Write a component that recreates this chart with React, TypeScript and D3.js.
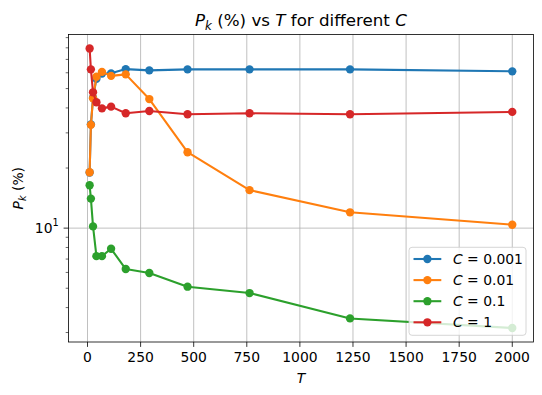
import React from 'react'
import * as d3 from 'd3'

const T = [10, 16, 26, 42, 68, 111, 180, 291, 471, 763, 1236, 2000]
const pkC0001 = [19.0, 33.1, 45, 56, 59.5, 59.6, 62.6, 61.7, 62.4, 62.4, 62.4, 61.0]
const pkC001 = [19.05, 32.9, 44.7, 57.3, 60.6, 57.9, 58.9, 44.3, 24.0, 15.5, 12.0, 10.4]
const pkC01 = [16.4, 14.06, 10.2, 7.24, 7.24, 7.88, 6.24, 5.96, 5.09, 4.73, 3.53, 3.16]
const pkC1 = [79.4, 62.4, 47.9, 42.7, 39.8, 40.6, 37.6, 38.6, 37.2, 37.6, 37.2, 38.2]
const cLabels = ['0.001', '0.01', '0.1', '1']
const xTicks = [0, 250, 500, 750, 1000, 1250, 1500, 1750, 2000]

const series = [
  { label: cLabels[0], values: pkC0001, color: '#1f77b4' },
  { label: cLabels[1], values: pkC001, color: '#ff7f0e' },
  { label: cLabels[2], values: pkC01, color: '#2ca02c' },
  { label: cLabels[3], values: pkC1, color: '#d62728' },
]

const W = 542
const H = 395
const margin = { left: 68.5, right: W - 533.4, top: 34.5, bottom: H - 342 }
const FONT = 'DejaVu Sans, sans-serif'
const FS = 13.9

export default function App() {
  const x0 = d3.min(T)!
  const x1 = d3.max(T)!
  const xPad = (x1 - x0) * 0.05
  const x = d3
    .scaleLinear()
    .domain([x0 - xPad, x1 + xPad])
    .range([margin.left, W - margin.right])

  const all = series.flatMap(s => s.values)
  const lo = Math.log10(d3.min(all)!)
  const hi = Math.log10(d3.max(all)!)
  const yPad = (hi - lo) * 0.05
  const y = d3
    .scaleLog()
    .domain([10 ** (lo - yPad), 10 ** (hi + yPad)])
    .range([H - margin.bottom, margin.top])

  const [yb, yt] = y.range()
  const [xl, xr] = x.range()
  const minorTicks = [3, 4, 5, 6, 7, 8, 9, 20, 30, 40, 50, 60, 70, 80, 90].filter(
    v => v >= y.domain()[0] && v <= y.domain()[1]
  )
  const majorY = [10]

  const line = d3
    .line<number>()
    .x((_, i) => x(T[i]))
    .y(d => y(d))

  // legend box
  const lgX = 409
  const lgY = 247.3
  const lgW = 117
  const lgH = 88
  const rowY = (i: number) => 259 + i * 21.1

  return (
    <svg width={W} height={H} style={{ position: 'absolute', left: 0, top: 0 }} fontFamily={FONT}>
      <rect width={W} height={H} fill="#fff" />
      {/* grid */}
      <g stroke="#b0b0b0" strokeWidth={0.8}>
        {xTicks.map(t => (
          <line key={t} x1={x(t)} x2={x(t)} y1={yt} y2={yb} />
        ))}
        {majorY.map(t => (
          <line key={t} x1={xl} x2={xr} y1={y(t)} y2={y(t)} />
        ))}
      </g>
      {/* series */}
      {series.map(s => (
        <g key={s.label}>
          <path d={line(s.values)!} fill="none" stroke={s.color} strokeWidth={2.08} strokeLinejoin="round" />
          {s.values.map((v, i) => (
            <circle key={i} cx={x(T[i])} cy={y(v)} r={4.17} fill={s.color} />
          ))}
        </g>
      ))}
      {/* axes frame */}
      <rect x={xl} y={yt} width={xr - xl} height={yb - yt} fill="none" stroke="#000" strokeWidth={0.8} />
      {/* x ticks */}
      {xTicks.map(t => (
        <g key={t}>
          <line x1={x(t)} x2={x(t)} y1={yb} y2={yb + 4.9} stroke="#000" strokeWidth={0.8} />
          <text x={x(t)} y={yb + 20} textAnchor="middle" fontSize={FS} fill="#000">
            {t}
          </text>
        </g>
      ))}
      {/* y ticks */}
      {minorTicks.map(t => (
        <line key={t} x1={xl - 2.8} x2={xl} y1={y(t)} y2={y(t)} stroke="#000" strokeWidth={0.6} />
      ))}
      {majorY.map(t => (
        <g key={t}>
          <line x1={xl - 4.9} x2={xl} y1={y(t)} y2={y(t)} stroke="#000" strokeWidth={0.8} />
          <text x={xl - 16} y={y(t) + 5} textAnchor="end" fontSize={FS} fill="#000">
            10
          </text>
          <text x={xl - 16} y={y(t) - 2} textAnchor="start" fontSize={FS * 0.7} fill="#000">
            1
          </text>
        </g>
      ))}
      {/* labels */}
      <text x={(xl + xr) / 2} y={383} textAnchor="middle" fontSize={FS} fontStyle="italic">
        T
      </text>
      <text transform={`translate(23,${(yt + yb) / 2}) rotate(-90)`} textAnchor="middle" fontSize={FS}>
        <tspan fontStyle="italic">P</tspan>
        <tspan fontStyle="italic" fontSize={FS * 0.7} dy={3}>
          k
        </tspan>
        <tspan dy={-3}> (%)</tspan>
      </text>
      <text x={(xl + xr) / 2} y={26} textAnchor="middle" fontSize={16.7}>
        <tspan fontStyle="italic">P</tspan>
        <tspan fontStyle="italic" fontSize={16.7 * 0.7} dy={3.5}>
          k
        </tspan>
        <tspan dy={-3.5}> (%) vs </tspan>
        <tspan fontStyle="italic">T</tspan>
        <tspan> for different </tspan>
        <tspan fontStyle="italic">C</tspan>
      </text>
      {/* legend */}
      <rect x={lgX} y={lgY} width={lgW} height={lgH} rx={3} fill="#fff" fillOpacity={0.8} stroke="#cccccc" strokeWidth={0.8} />
      {series.map((s, i) => (
        <g key={s.label}>
          <line x1={413.5} x2={441.3} y1={rowY(i)} y2={rowY(i)} stroke={s.color} strokeWidth={2.08} />
          <circle cx={427.4} cy={rowY(i)} r={4.17} fill={s.color} />
          <text x={453} y={rowY(i) + 5} fontSize={FS} fill="#000">
            <tspan fontStyle="italic">C</tspan>
            <tspan> = {s.label}</tspan>
          </text>
        </g>
      ))}
    </svg>
  )
}
